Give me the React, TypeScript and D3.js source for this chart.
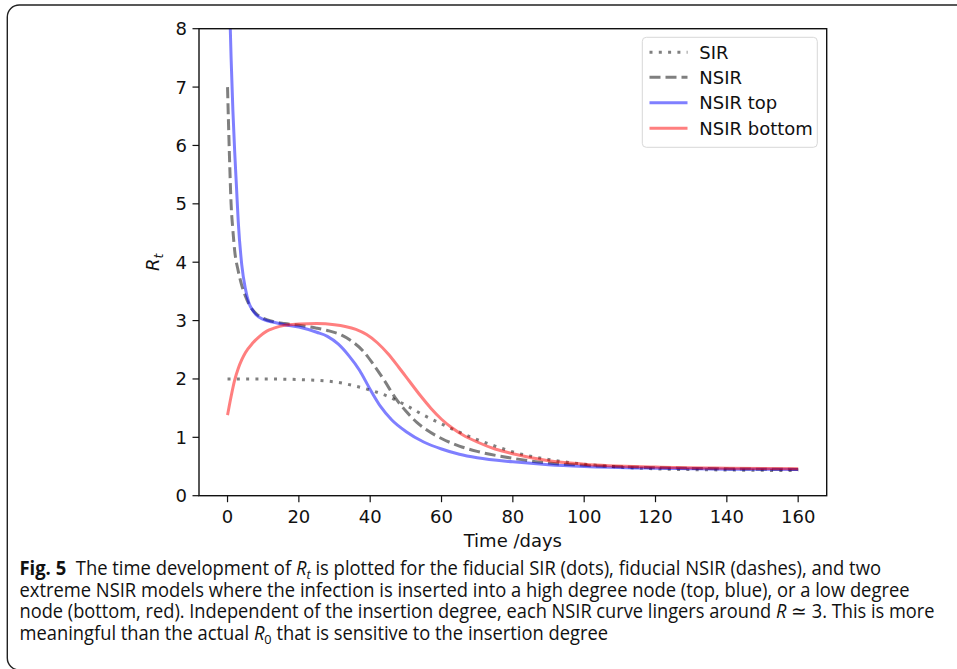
import React from "react";
import * as d3 from "d3";

// ---- data ----
const sirT = [0, 10, 20, 30, 35, 40, 45, 50, 55, 60, 65, 70, 75, 80, 90, 100, 110, 120, 140, 160];
const sirV = [2.0, 2.0, 1.99, 1.95, 1.89, 1.81, 1.7, 1.55, 1.38, 1.23, 1.09, 0.96, 0.85, 0.75, 0.62, 0.54, 0.49, 0.46, 0.44, 0.43];

const nsirT = [0, 0.5, 1, 1.5, 2, 3, 4, 5, 6, 8, 10, 13, 16, 20, 25, 28, 32, 35, 38, 41, 44, 47, 50, 53, 56, 60, 65, 70, 80, 90, 100, 120, 140, 160];
const nsirV = [7.0, 5.9, 5.0, 4.55, 4.2, 3.85, 3.6, 3.42, 3.28, 3.12, 3.04, 2.98, 2.95, 2.92, 2.87, 2.83, 2.75, 2.64, 2.48, 2.24, 1.97, 1.68, 1.45, 1.26, 1.12, 0.98, 0.85, 0.76, 0.64, 0.56, 0.52, 0.48, 0.46, 0.45];

const topT = [0, 0.5, 1, 1.5, 2, 2.5, 3, 4, 5, 6, 7, 8, 10, 13, 16, 20, 25, 28, 31, 34, 37, 40, 43, 46, 50, 55, 60, 65, 70, 80, 90, 100, 120, 140, 160];
const topV = [10.0, 8.6, 7.5, 6.6, 5.9, 5.3, 4.7, 3.95, 3.55, 3.3, 3.18, 3.1, 3.02, 2.97, 2.93, 2.89, 2.8, 2.73, 2.6, 2.4, 2.15, 1.82, 1.52, 1.3, 1.1, 0.92, 0.8, 0.71, 0.65, 0.58, 0.53, 0.5, 0.47, 0.455, 0.45];

const bottomT = [0, 1, 2, 3, 4, 5, 7, 9, 11, 13, 16, 20, 25, 30, 33, 36, 39, 42, 45, 48, 51, 54, 57, 60, 63, 66, 70, 75, 80, 90, 100, 120, 140, 160];
const bottomV = [1.38, 1.7, 1.98, 2.18, 2.33, 2.45, 2.61, 2.73, 2.82, 2.87, 2.92, 2.94, 2.95, 2.93, 2.9, 2.85, 2.76, 2.62, 2.43, 2.2, 1.96, 1.72, 1.5, 1.31, 1.16, 1.04, 0.92, 0.8, 0.72, 0.6, 0.54, 0.49, 0.47, 0.46];

const xTicks = [0, 20, 40, 60, 80, 100, 120, 140, 160];
const yTicks = [0, 1, 2, 3, 4, 5, 6, 7, 8];
const legendLabels = ["SIR", "NSIR", "NSIR top", "NSIR bottom"];

// ---- layout ----
const W = 957;
const H = 669;
const L = 199, R = 826.7, T = 28.7, B = 495.7;

const x = d3.scaleLinear().domain([-8, 168]).range([L, R]);
const y = d3.scaleLinear().domain([0, 8]).range([B, T]);

const toPts = (ts: number[], vs: number[]) => ts.map((t, i) => [t, vs[i]] as [number, number]);
const line = d3
  .line<[number, number]>()
  .x((d) => x(d[0]))
  .y((d) => y(d[1]))
  .curve(d3.curveMonotoneX);

const series = [
  { name: legendLabels[0], pts: toPts(sirT, sirV), color: "#000", opacity: 0.5, dash: "3,6.3" },
  { name: legendLabels[1], pts: toPts(nsirT, nsirV), color: "#000", opacity: 0.5, dash: "11,5" },
  { name: legendLabels[2], pts: toPts(topT, topV), color: "#0000ff", opacity: 0.5, dash: "none" },
  { name: legendLabels[3], pts: toPts(bottomT, bottomV), color: "#ff0000", opacity: 0.5, dash: "none" },
];

const tickFont = "'DejaVu Sans', sans-serif";
const capFont = "'Open Sans', 'Noto Sans', sans-serif";
const FS = 18;

export default function App() {
  const legendYs = [52.3, 77.3, 102.8, 128.3];
  return (
    <svg
      width={W}
      height={H}
      viewBox={`0 0 ${W} ${H}`}
      style={{ position: "absolute", left: 0, top: 0, background: "#fff" }}
    >
      <rect x={0} y={0} width={W} height={H} fill="#fff" />
      {/* figure frame */}
      <rect x={7.3} y={5} width={W + 20} height={665} rx={12} ry={12} fill="none" stroke="#222" strokeWidth={1.4} />

      <defs>
        <clipPath id="plotclip">
          <rect x={L} y={T} width={R - L} height={B - T} />
        </clipPath>
      </defs>

      {/* curves */}
      <g clipPath="url(#plotclip)">
        {series.map((s) => (
          <path
            key={s.name}
            d={line(s.pts) || ""}
            fill="none"
            stroke={s.color}
            strokeOpacity={s.opacity}
            strokeWidth={3}
            strokeDasharray={s.dash}
          />
        ))}
      </g>

      {/* axes box */}
      <rect x={L} y={T} width={R - L} height={B - T} fill="none" stroke="#111" strokeWidth={1.4} />

      {/* x ticks */}
      {xTicks.map((t) => (
        <g key={"x" + t}>
          <line x1={x(t)} x2={x(t)} y1={B} y2={B + 6.5} stroke="#111" strokeWidth={1.2} />
          <text x={x(t)} y={523} textAnchor="middle" fontFamily={tickFont} fontSize={FS} fill="#111">
            {t}
          </text>
        </g>
      ))}
      {/* y ticks */}
      {yTicks.map((v) => (
        <g key={"y" + v}>
          <line x1={L - 6.5} x2={L} y1={y(v)} y2={y(v)} stroke="#111" strokeWidth={1.2} />
          <text x={L - 12} y={y(v)} dy="0.36em" textAnchor="end" fontFamily={tickFont} fontSize={FS} fill="#111">
            {v}
          </text>
        </g>
      ))}

      {/* axis labels */}
      <text x={(L + R) / 2} y={546.5} textAnchor="middle" fontFamily={tickFont} fontSize={FS} fill="#111">
        Time /days
      </text>
      <text
        transform={`translate(159, ${(T + B) / 2}) rotate(-90)`}
        textAnchor="middle"
        fontFamily={tickFont}
        fontSize={FS}
        fill="#111"
      >
        <tspan fontStyle="italic">R</tspan>
        <tspan fontStyle="italic" fontSize={12.5} dy={3.5}>t</tspan>
      </text>

      {/* legend */}
      <rect x={642.3} y={37.3} width={175} height={110} rx={4} fill="#fff" fillOpacity={0.8} stroke="#d8d8d8" strokeWidth={1} />
      {series.map((s, i) => (
        <g key={"lg" + s.name}>
          <line
            x1={649.5}
            x2={687.5}
            y1={legendYs[i]}
            y2={legendYs[i]}
            stroke={s.color}
            strokeOpacity={s.opacity}
            strokeWidth={3}
            strokeDasharray={s.dash}
          />
          <text x={699.3} y={legendYs[i]} dy="0.36em" fontFamily={tickFont} fontSize={FS} fill="#111">
            {s.name}
          </text>
        </g>
      ))}

      {/* caption */}
      <g fontFamily={capFont} fontSize={19.5} fill="#111">
        <text x={19.5} y={575} textLength={861.5} lengthAdjust="spacingAndGlyphs">
          <tspan fontWeight="bold">Fig. 5</tspan>
          <tspan>{"\u00a0\u00a0The time development of "}</tspan>
          <tspan fontStyle="italic">R</tspan>
          <tspan fontStyle="italic" fontSize={13.5} dy={4}>t</tspan>
          <tspan dy={-4}>{" is plotted for the fiducial SIR (dots), fiducial NSIR (dashes), and two"}</tspan>
        </text>
        <text x={19.5} y={596.7} textLength={890} lengthAdjust="spacingAndGlyphs">
          extreme NSIR models where the infection is inserted into a high degree node (top, blue), or a low degree
        </text>
        <text x={19.5} y={618.3} textLength={915} lengthAdjust="spacingAndGlyphs">
          <tspan>{"node (bottom, red). Independent of the insertion degree, each NSIR curve lingers around "}</tspan>
          <tspan fontStyle="italic">R</tspan>
          <tspan>{" \u2243 3. This is more"}</tspan>
        </text>
        <text x={19.5} y={640} textLength={588.5} lengthAdjust="spacingAndGlyphs">
          <tspan>{"meaningful than the actual "}</tspan>
          <tspan fontStyle="italic">R</tspan>
          <tspan fontSize={13.5} dy={4}>0</tspan>
          <tspan dy={-4}>{" that is sensitive to the insertion degree"}</tspan>
        </text>
      </g>
    </svg>
  );
}
